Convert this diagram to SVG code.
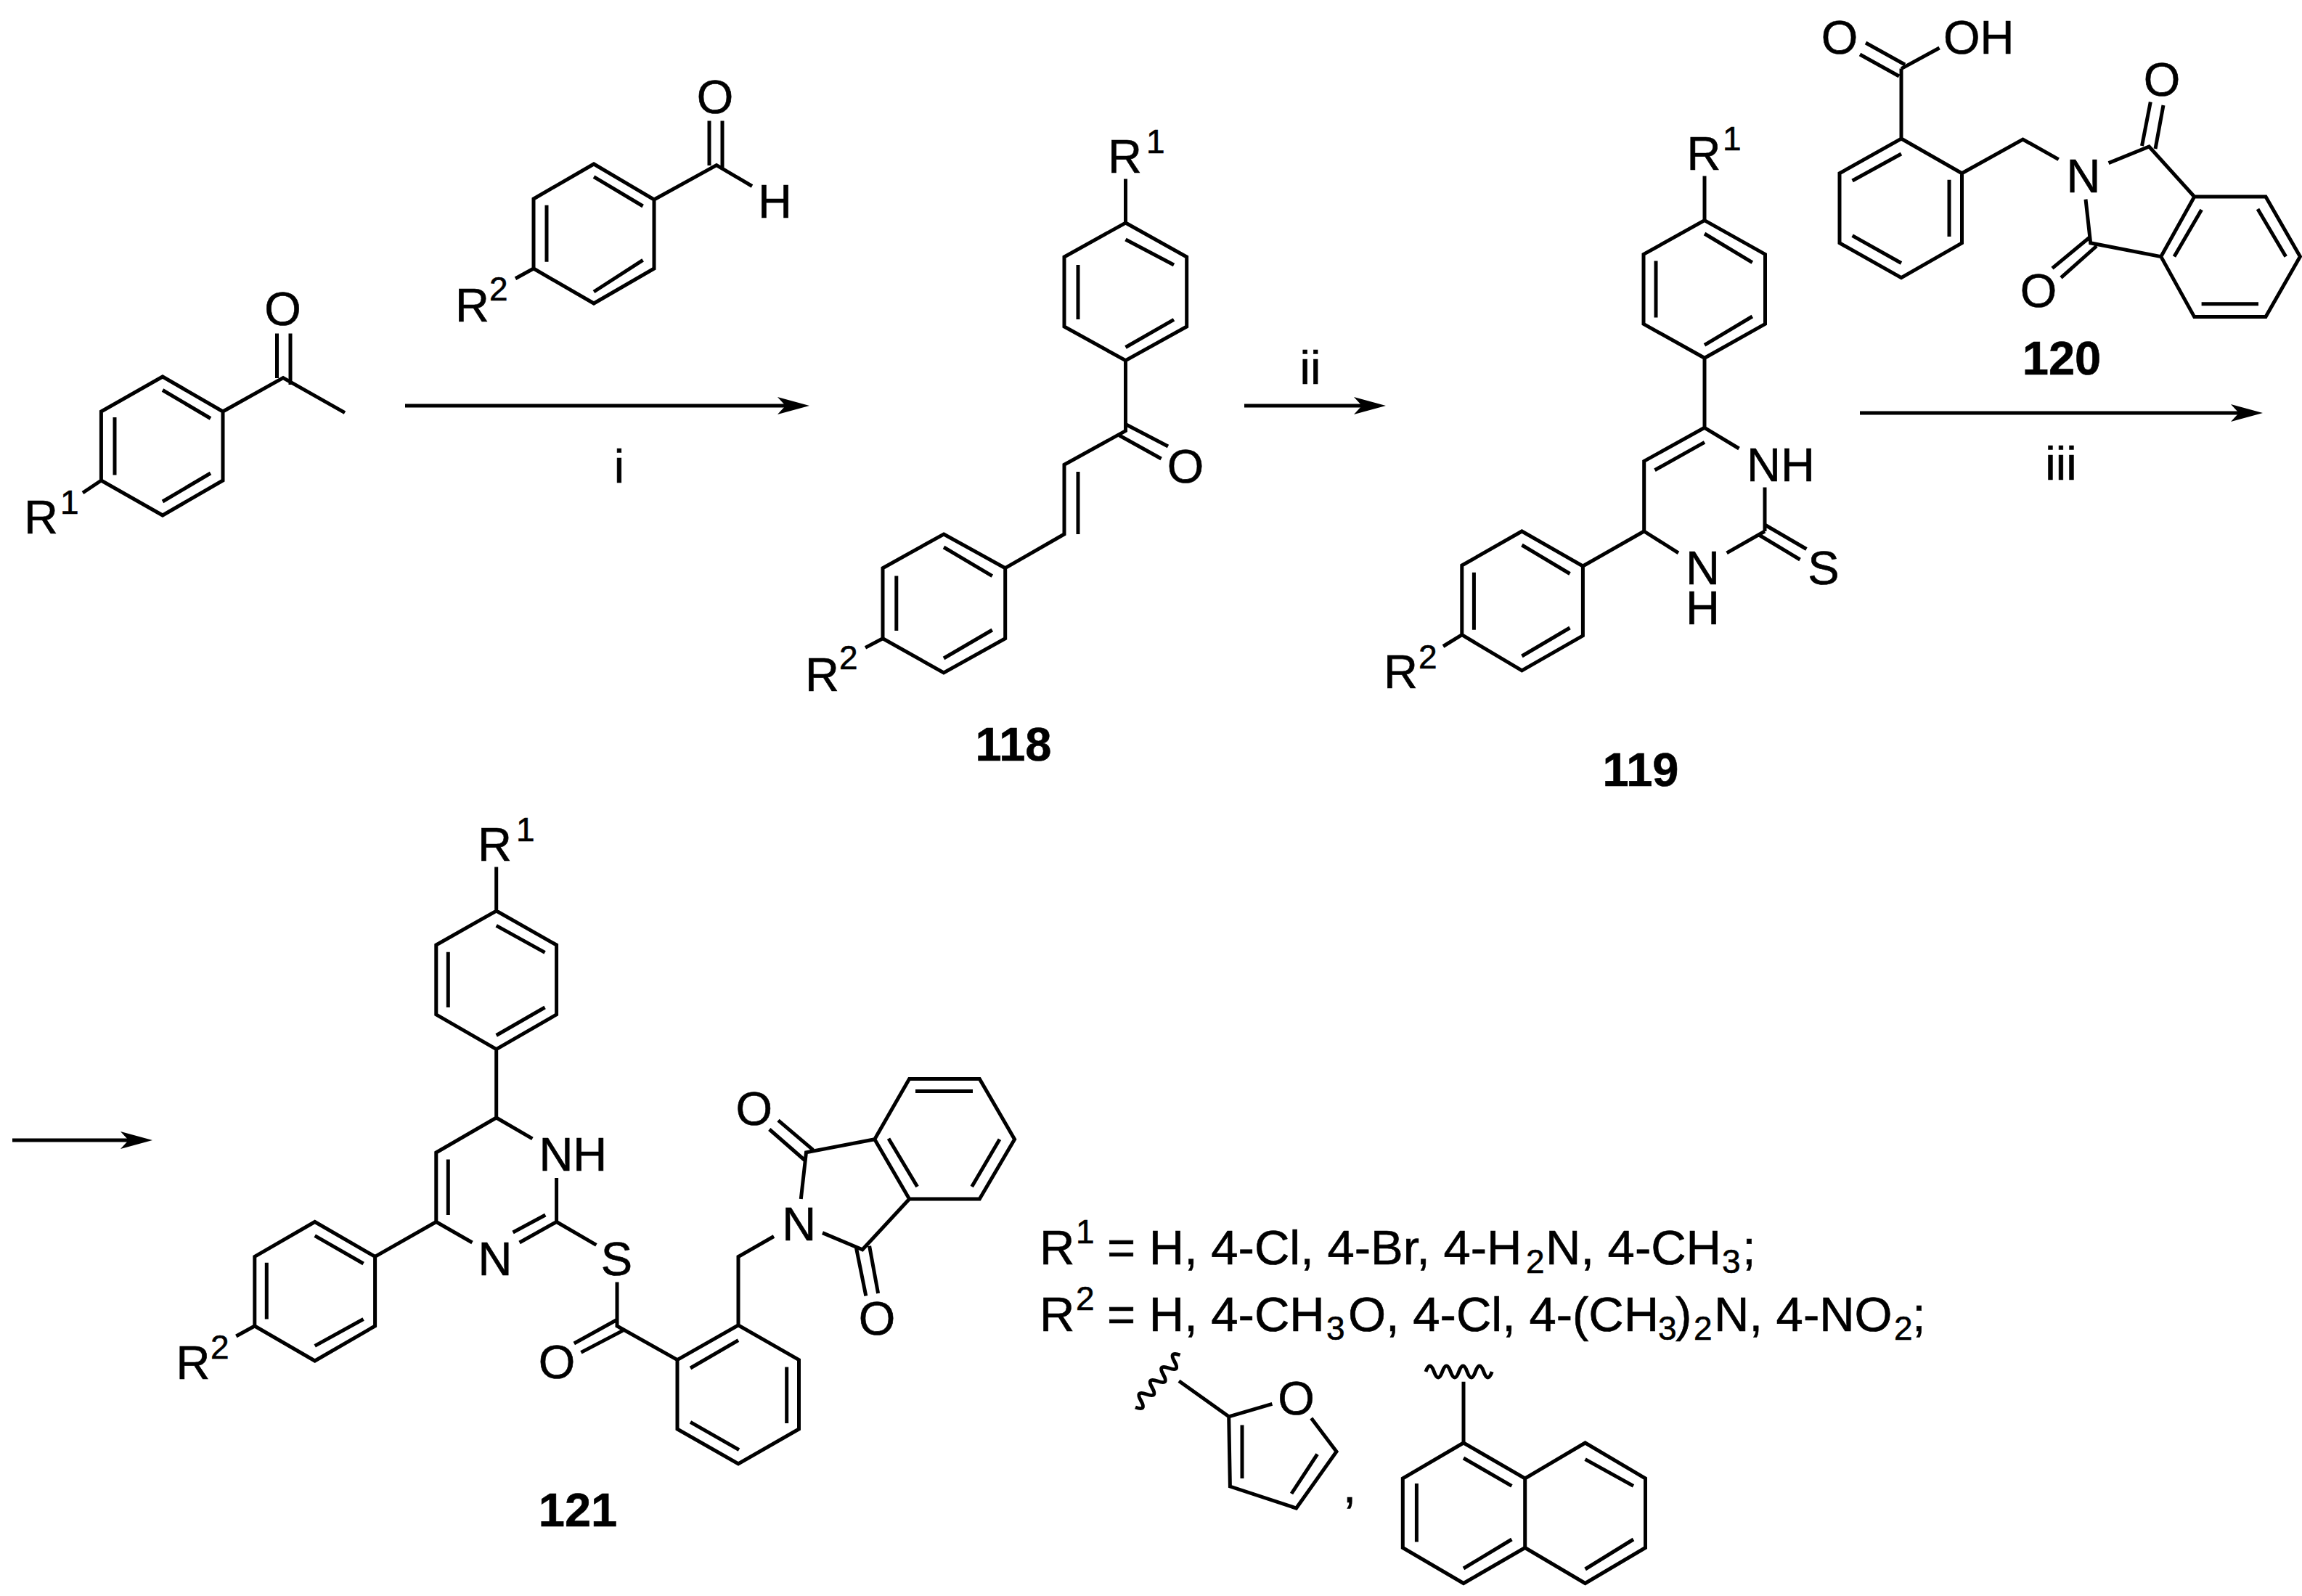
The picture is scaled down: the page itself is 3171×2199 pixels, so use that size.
<svg xmlns="http://www.w3.org/2000/svg" width="3171" height="2199" viewBox="0 0 3171 2199">
<style>
text{font-family:"Liberation Sans",Arial,sans-serif;font-size:65px;fill:#000;stroke:#000;stroke-width:.6}
.m{text-anchor:middle}
.s{font-size:46px}
.l{font-size:67px}
.b{font-weight:bold;font-size:65px;text-anchor:middle}
path{fill:none;stroke:#000;stroke-width:5;stroke-linejoin:miter;stroke-linecap:butt}
.h{fill:#000;stroke:none}
</style>
<defs>
<marker id="ah" viewBox="0 0 44 24" refX="11" refY="12" markerWidth="44" markerHeight="24" markerUnits="userSpaceOnUse" orient="auto"><path class="h" d="M0 0L44 12L0 24L11 12Z"/></marker>
</defs>
<rect width="3171" height="2199" fill="#fff"/>
<g id="connectors">
<path d="M558 559H1082" marker-end="url(#ah)"/>
<path d="M1714 559H1876" marker-end="url(#ah)"/>
<path d="M2562 569H3084" marker-end="url(#ah)"/>
<path d="M17 1571H177" marker-end="url(#ah)"/>
</g>
<g id="labels-arrows">
<text class="m" x="853" y="665">i</text>
<text class="m" x="1805" y="529">ii</text>
<text class="m" x="2839" y="661">iii</text>
</g>
<g id="acetophenone">
<path d="M224 519L307 567V662L224 710L139.4 662V567ZM224 537.5L290 576.5M158 575V654.6M224 691L290 652M307 567L390 520.5L475 568.7M381.5 459.4V521M400 459.4V530M139.4 662L114 679"/>
<text class="m" x="389.6" y="448">O</text>
<text x="33" y="735">R<tspan class="s" x="83" y="708">1</tspan></text>
</g>
<g id="benzaldehyde">
<path d="M818 226L901 275V370L818 418L735 370V274ZM818 243.6L885.6 284M753 282.7V360.7M818 402L885.6 358.4M901 275L987 227.6L1036 256.5M977 166.5V228M995 166.5V233M735 370L710 383.7"/>
<text class="m" x="985" y="156">O</text>
<text x="1044" y="300">H</text>
<text x="627" y="443.4">R<tspan class="s" x="674" y="414">2</tspan></text>
</g>
<g id="compound-118">
<path d="M1550.5 307L1634.7 354V450L1550.5 496.7L1466 450V354ZM1550.5 330L1617 365M1550.5 478.5L1617 440.3M1485 365V440M1550.5 246.4V307M1550.5 496.7V593.6L1466 640.3V736L1384.7 782.7M1485 650V736M1550.5 584.5L1609 615M1542 600L1599.6 632M1300 736L1384.7 782.7V879.7L1300 927L1216 879.7V782.7ZM1300 754L1366.8 793.6M1300 907L1366.8 868M1234.8 793.6V869M1216 879.7L1192 892.4"/>
<text x="1526" y="238">R<tspan class="s" x="1579" y="210.6">1</tspan></text>
<text class="m" x="1633" y="665">O</text>
<text x="1109" y="952">R<tspan class="s" x="1156" y="922">2</tspan></text>
<text class="b" x="1396" y="1048">118</text>
</g>
<g id="compound-119">
<path d="M2348 303.6L2431.5 350.4V446.4L2348 493.3L2264 446.4V350.4ZM2348 322L2413.8 361.6M2348 475.4L2413.8 436M2281 359.4V437.5M2348 242.4V303.6M2348 493.3V589.3L2264.7 635.4V732M2348 609.4L2279.5 647.7M2348 589.3L2395.5 618M2431 671.6V732M2264.7 732L2312 761.8M2378.6 761.8L2431 732M2431 723L2488.4 756.5M2423 737L2479.5 771M2264.7 732L2180.4 780M2096.4 732L2180.4 780V875.8L2096.4 923.9L2013.8 874.7V779ZM2096.4 751L2162.5 790.5M2096.4 904L2162.5 865M2030.4 788.8V867.7M2013.8 874.7L1988 890.5"/>
<text x="2323.5" y="234.4">R<tspan class="s" x="2373" y="206.7">1</tspan></text>
<text x="2406" y="662.8">NH</text>
<text class="m" x="2345.5" y="805">N</text>
<text class="m" x="2345.5" y="860">H</text>
<text class="m" x="2512" y="805">S</text>
<text x="1906" y="948.4">R<tspan class="s" x="1954" y="921.4">2</tspan></text>
<text class="b" x="2260" y="1083">119</text>
</g>
<g id="compound-120">
<path d="M2619 94.6L2671.6 66M2570 59L2624 89M2562 75L2616 105M2619 94.6V191M2619 191L2702.5 238.8V334.8L2619 382.6L2534 334.8V238.8ZM2619 212L2551.6 249M2685 247.8V325.9M2551.6 324.6L2619 362.5M2702.5 238.8L2786.5 192L2835.7 219.6M2904.6 224.6L2960.4 202L3022.7 271M2873 274.6L2879.7 334.8L2976.8 353.6M3022.7 271H3121L3168.4 353.6L3121 436.6H3022.7L2976.8 353.6ZM3032.6 289L2995 353.6M3110 288L3148.7 353.6M3032.6 418.8H3111M2962.3 140.6L2950.5 201M2980 145L2969 205M2879.7 326L2827 369.6M2888 339L2839 382.6"/>
<text class="m" x="2534" y="73.7">O</text>
<text x="2677" y="73.7">OH</text>
<text class="m" x="2870" y="264.7">N</text>
<text class="m" x="2978" y="132">O</text>
<text class="m" x="2808" y="423">O</text>
<text class="b" x="2840" y="515.6">120</text>
</g>
<g id="compound-121">
<path d="M683.7 1194.4V1255M683.7 1255L766.6 1302V1397.8L683.7 1445.7L600.8 1397.8V1302ZM683.7 1275.4L750.6 1312.4M683.7 1426.5L750.6 1388M617.3 1311.7V1388M683.7 1445.7V1540L600.8 1588V1683.5L650.5 1712M617.3 1597.4V1674M683.7 1540L733.4 1568.8M766.6 1623V1683.5L715.6 1712M751.3 1674L706.6 1698M766.6 1683.5L821.4 1715.4M850 1766.4V1827L933 1873.6M851.4 1817.5L790.8 1851M857.8 1833.4L800.4 1863.4M600.8 1683.5L516.6 1731.4M516.6 1731.4L433.7 1683.5L350.8 1731.4V1827L433.7 1875L516.6 1827ZM433.7 1702.7L500.6 1741M367.3 1739.7V1817.5M433.7 1854.4L500.6 1817.5M350.8 1827L325.3 1841M933 1873.6L1017 1826L1100.5 1873.6V1969L1017 2016.8L933 1969ZM951 1885L1017 1846.7M1083.7 1883.4V1961M951 1959.4L1018 1997.6M1017 1826V1731.5L1066 1703.5M1103.3 1652L1110.5 1587.8L1204.8 1569.7M1204.8 1569.7L1252.6 1486.4H1349.3L1397.6 1569.7L1349.3 1652H1252.6ZM1261 1503.5H1340M1377 1569.7L1338.7 1635M1224 1568.7L1263.6 1635M1252.6 1652L1188 1721.7L1133 1698.6M1120 1584.4L1072 1543.7M1109 1599L1059.8 1556M1179.4 1719L1192.8 1785.4M1197.6 1716.8L1209.6 1782"/>
<text x="658" y="1186">R<tspan class="s" x="711" y="1158.7">1</tspan></text>
<text x="742.4" y="1613.4">NH</text>
<text class="m" x="682" y="1757">N</text>
<text class="m" x="849.5" y="1757">S</text>
<text class="m" x="767" y="1899">O</text>
<text x="242.4" y="1900">R<tspan class="s" x="290" y="1871.6">2</tspan></text>
<text class="m" x="1100.7" y="1709.4">N</text>
<text class="m" x="1038.8" y="1550">O</text>
<text class="m" x="1208" y="1839">O</text>
<text class="b" x="796" y="2102.5">121</text>
</g>
<g id="legend">
<text class="l" x="1432" y="1742">R<tspan class="s" x="1482" y="1713">1</tspan><tspan x="1525" y="1742">= H, 4-Cl, 4-Br, 4-H</tspan><tspan class="s" x="2102" y="1754">2</tspan><tspan x="2129" y="1742">N, 4-CH</tspan><tspan class="s" x="2372" y="1754">3</tspan><tspan x="2400" y="1742">;</tspan></text>
<text class="l" x="1432" y="1834">R<tspan class="s" x="1482" y="1805">2</tspan><tspan x="1525" y="1834">= H, 4-CH</tspan><tspan class="s" x="1827" y="1846">3</tspan><tspan x="1857" y="1834">O, 4-Cl, 4-(CH</tspan><tspan class="s" x="2284" y="1846">3</tspan><tspan x="2308" y="1834">)</tspan><tspan class="s" x="2333" y="1846">2</tspan><tspan x="2361" y="1834">N, 4-NO</tspan><tspan class="s" x="2609" y="1846">2</tspan><tspan x="2634" y="1834">;</tspan></text>
</g>
<g id="furyl">
<path d="M1692.7 1951.8L1624 1902.8M1692.7 1951.8L1752.4 1934.3M1806.3 1954L1841 2000L1785.6 2078L1694.4 2048L1692.7 1951.8M1814.6 2003.6L1779 2058M1711 1963.4V2037"/>
<path d="M1564 1939q16 5.9 7.7 -9t7.7 -9t7.7 -9t7.7 -9t7.7 -9t7.7 -9t7.7 -9t7.7 -9"/>
<text class="m" x="1785.6" y="1948.7">O</text>
<text x="1850" y="2070">,</text>
</g>
<g id="naphthyl">
<path d="M2016 1903.8V1988M2016 1988L2100.7 2037V2132.5L2016 2181.5L1932.3 2132.5V2037ZM2016 2009L2082.4 2047.4M1951.4 2044V2124.4M2016 2161L2082.4 2121M2100.7 2037L2183.6 1988L2266.5 2037V2132.5L2183.6 2181.5L2100.7 2132.5M2183.6 2010.6L2250 2047.4M2183.6 2162L2250 2121"/>
<path d="M1964 1890q5.7 -16 11.4 0t11.4 0t11.4 0t11.4 0t11.4 0t11.4 0t11.4 0t11.4 0"/>
</g>
</svg>
